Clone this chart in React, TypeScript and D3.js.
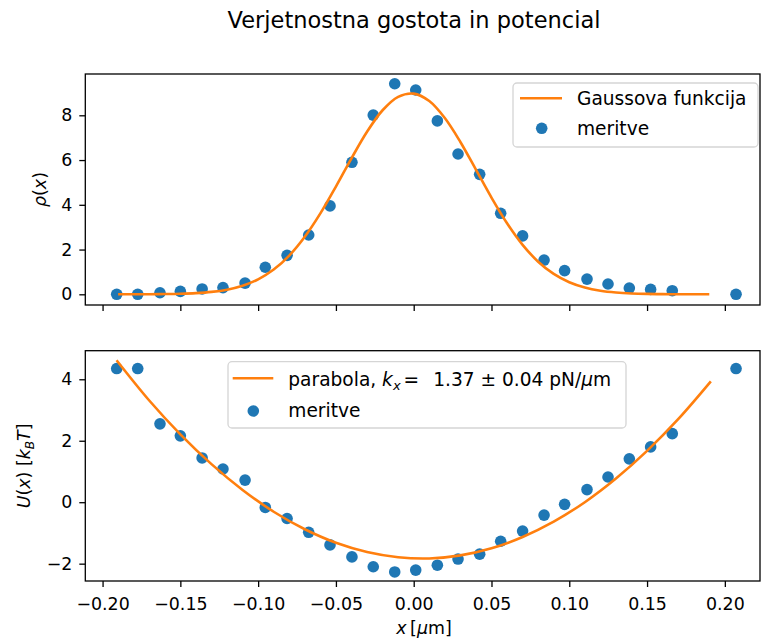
import React, { useEffect, useRef } from "react";
import * as d3 from "d3";

// measured points (shared x for both panels)
const xMeas = [-0.1909, -0.1774, -0.1631, -0.150, -0.136, -0.1226, -0.1084, -0.0954, -0.0814, -0.0675,
  -0.0538, -0.0397, -0.0260, -0.0122, 0.0013, 0.0152, 0.0285, 0.0424, 0.0559, 0.0700,
  0.0838, 0.0970, 0.1114, 0.1249, 0.1386, 0.1523, 0.1662, 0.2072];
const rhoMeas = [0.0, 0.0, 0.07, 0.13, 0.24, 0.30, 0.50, 1.21, 1.74, 2.65,
  3.95, 5.90, 8.01, 9.41, 9.13, 7.75, 6.27, 5.36, 3.62, 2.61,
  1.53, 1.06, 0.68, 0.46, 0.28, 0.22, 0.16, 0.0];
const uMeas = [4.35, 4.35, 2.55, 2.16, 1.44, 1.08, 0.72, -0.17, -0.53, -0.98,
  -1.39, -1.78, -2.10, -2.27, -2.21, -2.05, -1.85, -1.69, -1.27, -0.94,
  -0.42, -0.07, 0.41, 0.82, 1.41, 1.80, 2.23, 4.35];

// fitted gaussian
const xGauss = [-0.19, -0.18, -0.17, -0.16, -0.15, -0.14, -0.13, -0.12, -0.11, -0.10,
  -0.09, -0.08, -0.07, -0.06, -0.05, -0.04, -0.03, -0.02, -0.01, 0.0,
  0.01, 0.02, 0.03, 0.04, 0.05, 0.06, 0.07, 0.08, 0.09, 0.10,
  0.11, 0.12, 0.13, 0.14, 0.15, 0.16, 0.17, 0.18, 0.19];
const rhoGauss = [0.001, 0.002, 0.004, 0.011, 0.024, 0.052, 0.107, 0.208, 0.383, 0.669,
  1.106, 1.733, 2.572, 3.615, 4.816, 6.077, 7.265, 8.226, 8.826, 8.970,
  8.637, 7.878, 6.808, 5.573, 4.322, 3.175, 2.211, 1.458, 0.910, 0.539,
  0.302, 0.160, 0.081, 0.038, 0.017, 0.007, 0.003, 0.001, 0.0];

// fitted parabola
const xPar = [-0.191, -0.17, -0.15, -0.13, -0.11, -0.09, -0.07, -0.05, -0.03, -0.01,
  0.01, 0.03, 0.05, 0.07, 0.09, 0.11, 0.13, 0.15, 0.17, 0.191];
const uPar = [4.62, 3.31, 2.21, 1.24, 0.40, -0.31, -0.88, -1.32, -1.62, -1.79,
  -1.83, -1.73, -1.50, -1.13, -0.63, 0.00, 0.77, 1.67, 2.70, 3.93];

const xTicks = [-0.2, -0.15, -0.1, -0.05, 0, 0.05, 0.1, 0.15, 0.2];
const rhoTicks = [0, 2, 4, 6, 8];
const uTicks = [-2, 0, 2, 4];

const BLUE = "#1f77b4";
const ORANGE = "#ff7f0e";
const FONT = "'DejaVu Sans', sans-serif";
const FS = 17.4;
const LFS = 18.6;

function App() {
  const ref = useRef<SVGSVGElement>(null);

  useEffect(() => {
    const svg = d3.select(ref.current);
    svg.selectAll("*").remove();
    svg.style("font-family", FONT);

    const left = 85.3, right = 760;
    const x = d3.scaleLinear().domain([-0.2111, 0.2226]).range([left, right]);

    const panels = [
      { top: 74, bottom: 305, domain: [-0.478, 9.846], ticks: rhoTicks, fx: xGauss, fy: rhoGauss, my: rhoMeas, labels: false },
      { top: 350.7, bottom: 581, domain: [-2.564, 4.93], ticks: uTicks, fx: xPar, fy: uPar, my: uMeas, labels: true },
    ];

    panels.forEach(p => {
      const y = d3.scaleLinear().domain(p.domain).range([p.bottom, p.top]);
      const g = svg.append("g");

      // measured points
      g.selectAll("circle.dot")
        .data(p.my)
        .enter().append("circle")
        .attr("class", "dot")
        .attr("cx", (d, i) => x(xMeas[i]))
        .attr("cy", d => y(d))
        .attr("r", 5.8)
        .attr("fill", BLUE);

      // fitted curve
      const line = d3.line<number>()
        .x((d, i) => x(p.fx[i]))
        .y(d => y(d))
        .curve(d3.curveCatmullRom);
      g.append("path")
        .datum(p.fy)
        .attr("fill", "none")
        .attr("stroke", ORANGE)
        .attr("stroke-width", 2.6)
        .attr("d", line);

      // x axis
      const xa = g.append("g")
        .attr("transform", `translate(0,${p.bottom})`)
        .call(d3.axisBottom(x).tickValues(xTicks).tickSize(6).tickSizeOuter(0)
          .tickFormat(p.labels ? d3.format(".2f") : () => ""));
      xa.select(".domain").remove();
      xa.selectAll("line").attr("stroke", "#000").attr("stroke-width", 1.3);
      xa.selectAll("text").attr("y", 0).attr("dy", 29).attr("font-size", FS).attr("font-family", FONT).attr("fill", "#000");

      // y axis
      const ya = g.append("g")
        .attr("transform", `translate(${left},0)`)
        .call(d3.axisLeft(y).tickValues(p.ticks).tickSize(6).tickPadding(7).tickSizeOuter(0).tickFormat(d3.format("d")));
      ya.select(".domain").remove();
      ya.selectAll("line").attr("stroke", "#000").attr("stroke-width", 1.3);
      ya.selectAll("text").attr("font-size", FS).attr("font-family", FONT).attr("fill", "#000");

      // frame
      g.append("rect")
        .attr("x", left).attr("y", p.top)
        .attr("width", right - left).attr("height", p.bottom - p.top)
        .attr("fill", "none").attr("stroke", "#000").attr("stroke-width", 1.3);
    });

    // title
    svg.append("text")
      .attr("x", 414).attr("y", 28)
      .attr("text-anchor", "middle")
      .attr("font-size", 22.5)
      .attr("fill", "#000")
      .text("Verjetnostna gostota in potencial");

    // x label
    const xl = svg.append("text")
      .attr("x", 424).attr("y", 634)
      .attr("text-anchor", "middle")
      .attr("font-size", FS);
    xl.append("tspan").attr("font-style", "italic").text("x");
    xl.append("tspan").text("\u2009[");
    xl.append("tspan").attr("font-style", "italic").text("μ");
    xl.append("tspan").text("m]");

    // y labels
    const yl1 = svg.append("text")
      .attr("transform", `translate(46,${(74 + 305) / 2}) rotate(-90)`)
      .attr("text-anchor", "middle")
      .attr("font-size", FS);
    yl1.append("tspan").attr("font-style", "italic").text("ρ");
    yl1.append("tspan").text("(");
    yl1.append("tspan").attr("font-style", "italic").text("x");
    yl1.append("tspan").text(")");

    const yl2 = svg.append("text")
      .attr("transform", `translate(30,${(350.7 + 581) / 2}) rotate(-90)`)
      .attr("text-anchor", "middle")
      .attr("font-size", FS);
    yl2.append("tspan").attr("font-style", "italic").text("U");
    yl2.append("tspan").text("(");
    yl2.append("tspan").attr("font-style", "italic").text("x");
    yl2.append("tspan").text(") [");
    yl2.append("tspan").attr("font-style", "italic").text("k");
    yl2.append("tspan").attr("font-style", "italic").attr("font-size", FS * 0.7).attr("dy", 4).text("B");
    yl2.append("tspan").attr("font-style", "italic").attr("dy", -4).text("T");
    yl2.append("tspan").text("]");

    // legends
    function legend(bx: number, by: number, bw: number, bh: number, lx0: number, lx1: number, ly: number,
      mx: number, my: number, tx: number, t1y: number, t2y: number) {
      const lg = svg.append("g");
      lg.append("rect")
        .attr("x", bx).attr("y", by).attr("width", bw).attr("height", bh)
        .attr("rx", 4)
        .attr("fill", "rgba(255,255,255,0.8)")
        .attr("stroke", "#d5d5d5").attr("stroke-width", 1.3);
      lg.append("line")
        .attr("x1", lx0).attr("x2", lx1).attr("y1", ly).attr("y2", ly)
        .attr("stroke", ORANGE).attr("stroke-width", 2.6);
      lg.append("circle").attr("cx", mx).attr("cy", my).attr("r", 5.8).attr("fill", BLUE);
      const t1 = lg.append("text").attr("x", tx).attr("y", t1y).attr("font-size", LFS).attr("fill", "#000");
      lg.append("text").attr("x", tx).attr("y", t2y).attr("font-size", LFS).attr("fill", "#000").text("meritve");
      return t1;
    }

    const t1 = legend(513, 83, 245, 64, 520, 562, 98.3, 541.7, 128.3, 577, 105, 135);
    t1.text("Gaussova funkcija");

    const t2 = legend(228, 361.7, 398, 66.3, 232.7, 273.3, 378.3, 253.3, 411, 288.3, 386, 416.7);
    t2.append("tspan").text("parabola, ");
    t2.append("tspan").attr("font-style", "italic").text("k");
    t2.append("tspan").attr("font-style", "italic").attr("font-size", LFS * 0.7).attr("dy", 4).text("x");
    t2.append("tspan").attr("dy", -4).attr("dx", 3).text("=");
    t2.append("tspan").attr("dx", 14).text("1.37 ± 0.04 pN/");
    t2.append("tspan").attr("font-style", "italic").text("μ");
    t2.append("tspan").text("m");
  }, []);

  return <svg ref={ref} width={762} height={643} style={{ position: "absolute", left: 0, top: 0, background: "#fff" }} />;
}

export default App;
